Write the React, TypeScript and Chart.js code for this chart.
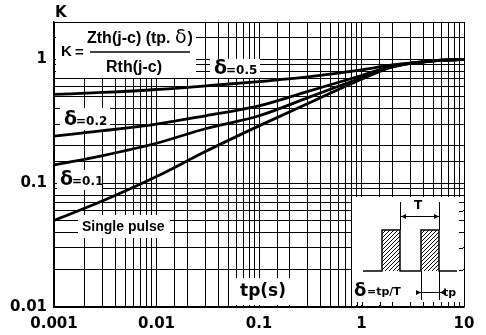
import { useEffect, useRef } from 'react';
import { Chart, registerables } from 'chart.js';

Chart.register(...registerables);

// pulse duration tp (s)
const tp = [0.001, 0.003, 0.01, 0.03, 0.1, 0.3, 1, 2, 5, 10];
// K values for each duty cycle
const kDelta05 = [0.52, 0.54, 0.57, 0.61, 0.66, 0.72, 0.82, 0.9, 0.97, 1.0];
const kDelta02 = [0.24, 0.265, 0.3, 0.35, 0.42, 0.55, 0.74, 0.88, 0.97, 1.0];
const kDelta01 = [0.14, 0.167, 0.21, 0.275, 0.35, 0.49, 0.71, 0.87, 0.97, 1.0];
const kSingle = [0.05, 0.072, 0.113, 0.18, 0.29, 0.44, 0.69, 0.87, 0.97, 1.0];
const seriesNames = ['δ=0.5', 'δ=0.2', 'δ=0.1', 'Single pulse'];

const xTickLabels = ['0.001', '0.01', '0.1', '1', '10'];
const yTickLabels = ['0.01', '0.1', '1'];

const BOLD_D = 'bold 15px "DejaVu Sans"';

function decadeLabel(labels: string[], v: number): string {
  const l = Math.log10(v);
  const f = labels.find((s) => Math.abs(Math.log10(Number(s)) - l) < 1e-6);
  return f ?? '';
}

function arrowHead(ctx: CanvasRenderingContext2D, x: number, y: number, dir: number) {
  ctx.beginPath();
  ctx.moveTo(x, y);
  ctx.lineTo(x - dir * 5, y - 2.5);
  ctx.lineTo(x - dir * 5, y + 2.5);
  ctx.closePath();
  ctx.fill();
}

const overlay = {
  id: 'overlay',
  beforeDatasetsDraw(chart: any) {
    const ctx: CanvasRenderingContext2D = chart.ctx;
    ctx.save();
    ctx.fillStyle = '#fff';
    const boxes = [
      [56, 23, 140, 55],
      [210, 59, 50, 19],
      [60, 108, 50, 22],
      [57, 170, 45, 20],
      [78, 215, 92, 23],
      [236, 278, 56, 27],
      [352, 197, 111, 108],
    ];
    boxes.forEach(([x, y, w, h]) => ctx.fillRect(x, y, w, h));

    ctx.fillStyle = '#000';
    ctx.strokeStyle = '#000';
    ctx.textBaseline = 'middle';
    ctx.textAlign = 'left';

    ctx.font = BOLD_D;
    ctx.fillText('K', 55, 13);

    // formula
    ctx.font = 'bold 15px "Liberation Sans"';
    ctx.fillText('K', 61, 52);
    ctx.fillText('=', 75, 53);
    ctx.lineWidth = 1.5;
    ctx.beginPath();
    ctx.moveTo(90, 52);
    ctx.lineTo(190, 52);
    ctx.stroke();
    ctx.font = 'bold 16px "Liberation Sans"';
    const num1 = 'Zth(j-c) (tp. ';
    ctx.fillText(num1, 87, 39);
    let nx = 87 + ctx.measureText(num1).width;
    ctx.font = '19px "DejaVu Sans"';
    ctx.fillText('δ', nx, 38);
    nx += ctx.measureText('δ').width + 1;
    ctx.font = 'bold 16px "Liberation Sans"';
    ctx.fillText(')', nx, 39);
    ctx.textAlign = 'center';
    ctx.fillText('Rth(j-c)', 134, 68);
    ctx.textAlign = 'left';

    const deltaLabel = (x: number, y: number, txt: string) => {
      ctx.font = 'bold 19px "DejaVu Sans"';
      ctx.fillText('δ', x, y);
      const w = ctx.measureText('δ').width;
      ctx.font = 'bold 12px "DejaVu Sans"';
      ctx.fillText(txt, x + w - 1, y + 2);
    };
    deltaLabel(214, 69, seriesNames[0].slice(1));
    deltaLabel(64, 120, seriesNames[1].slice(1));
    deltaLabel(60, 180, seriesNames[2].slice(1));
    ctx.font = 'bold 14px "Liberation Sans"';
    ctx.fillText(seriesNames[3], 82, 227);

    ctx.font = 'bold 17px "DejaVu Sans"';
    ctx.textAlign = 'center';
    ctx.fillText('tp(s)', 263, 292);
    ctx.textAlign = 'left';

    ctx.lineWidth = 1;
    const ys = chart.scales.y;
    ys.ticks.forEach((t: any) => {
      const py = Math.round(ys.getPixelForValue(t.value)) + 0.5;
      if (py > 198 && py < 305) {
        ctx.beginPath();
        ctx.moveTo(459, py);
        ctx.lineTo(463, py);
        ctx.stroke();
      }
    });
    const xs = chart.scales.x;
    xs.ticks.forEach((t: any) => {
      const px = Math.round(xs.getPixelForValue(t.value)) + 0.5;
      if (px > 353 && px < 462) {
        ctx.beginPath();
        ctx.moveTo(px, 302);
        ctx.lineTo(px, 306);
        ctx.stroke();
      }
    });

    ctx.lineWidth = 1.5;
    ctx.beginPath();
    ctx.moveTo(363, 271);
    ctx.lineTo(382, 271);
    ctx.lineTo(382, 230);
    ctx.lineTo(400, 230);
    ctx.lineTo(400, 271);
    ctx.lineTo(421, 271);
    ctx.lineTo(421, 230);
    ctx.lineTo(439, 230);
    ctx.lineTo(439, 271);
    ctx.lineTo(457, 271);
    ctx.stroke();
    ctx.lineWidth = 1;
    [[382, 230, 18, 41], [421, 230, 18, 41]].forEach(([x, y, w, h]) => {
      ctx.save();
      ctx.beginPath();
      ctx.rect(x, y, w, h);
      ctx.clip();
      for (let s = x - h; s < x + w; s += 4) {
        ctx.beginPath();
        ctx.moveTo(s, y + h);
        ctx.lineTo(s + h, y);
        ctx.stroke();
      }
      ctx.restore();
    });
    ctx.beginPath();
    ctx.moveTo(400.5, 202);
    ctx.lineTo(400.5, 230);
    ctx.moveTo(439.5, 202);
    ctx.lineTo(439.5, 230);
    ctx.moveTo(401, 216.5);
    ctx.lineTo(439, 216.5);
    ctx.stroke();
    arrowHead(ctx, 401, 216.5, -1);
    arrowHead(ctx, 439, 216.5, 1);
    ctx.font = 'bold 12px "DejaVu Sans"';
    ctx.textAlign = 'center';
    ctx.fillText('T', 418, 206);
    ctx.textAlign = 'left';
    ctx.beginPath();
    ctx.moveTo(421.5, 271);
    ctx.lineTo(421.5, 300);
    ctx.moveTo(439.5, 271);
    ctx.lineTo(439.5, 300);
    ctx.moveTo(417, 292.5);
    ctx.lineTo(443, 292.5);
    ctx.stroke();
    arrowHead(ctx, 421, 292.5, 1);
    arrowHead(ctx, 440, 292.5, -1);
    ctx.font = 'bold 11px "DejaVu Sans"';
    ctx.fillText('tp', 443, 293);
    ctx.font = 'bold 18px "DejaVu Sans"';
    ctx.fillText('δ', 354, 291);
    ctx.font = 'bold 11px "DejaVu Sans"';
    ctx.fillText('=tp/T', 367, 292);

    ctx.restore();
  },
};

export default function App() {
  const ref = useRef<HTMLCanvasElement | null>(null);
  useEffect(() => {
    if (!ref.current) return;
    const mk = (data: number[]) => tp.map((x, i) => ({ x, y: data[i] }));
    const chart = new Chart(ref.current, {
      type: 'line',
      data: {
        datasets: [kDelta05, kDelta02, kDelta01, kSingle].map((d, i) => ({
          label: seriesNames[i],
          data: mk(d),
          borderColor: '#000',
          borderWidth: 2.8,
          pointRadius: 0,
          fill: false,
          cubicInterpolationMode: 'monotone' as const,
        })),
      },
      options: {
        responsive: false,
        animation: false,
        layout: { padding: { top: 22, right: 22, left: 0, bottom: 0 } },
        plugins: { legend: { display: false }, tooltip: { enabled: false } },
        scales: {
          x: {
            type: 'logarithmic',
            min: 0.001,
            max: 10,
            afterFit: (s: any) => {
              s.height = 28;
            },
            grid: { color: '#000', lineWidth: 1, drawTicks: false },
            border: { color: '#000', width: 1.5 },
            ticks: {
              autoSkip: false,
              maxRotation: 0,
              padding: 8,
              color: '#000',
              font: { family: 'DejaVu Sans', size: 15, weight: 'bold' },
              callback: (v: any) => decadeLabel(xTickLabels, Number(v)),
            },
          },
          y: {
            type: 'logarithmic',
            min: 0.01,
            max: 2,
            afterFit: (s: any) => {
              s.width = 54;
            },
            grid: { color: '#000', lineWidth: 1, drawTicks: false },
            border: { color: '#000', width: 1.5 },
            ticks: {
              autoSkip: false,
              padding: 7,
              color: '#000',
              font: { family: 'DejaVu Sans', size: 15, weight: 'bold' },
              callback: (v: any) => decadeLabel(yTickLabels, Number(v)),
            },
          },
        },
      },
      plugins: [overlay],
    });
    return () => chart.destroy();
  }, []);
  return (
    <canvas
      ref={ref}
      width={486}
      height={335}
      style={{ position: 'absolute', left: 0, top: 0, width: 486, height: 335 }}
    />
  );
}
